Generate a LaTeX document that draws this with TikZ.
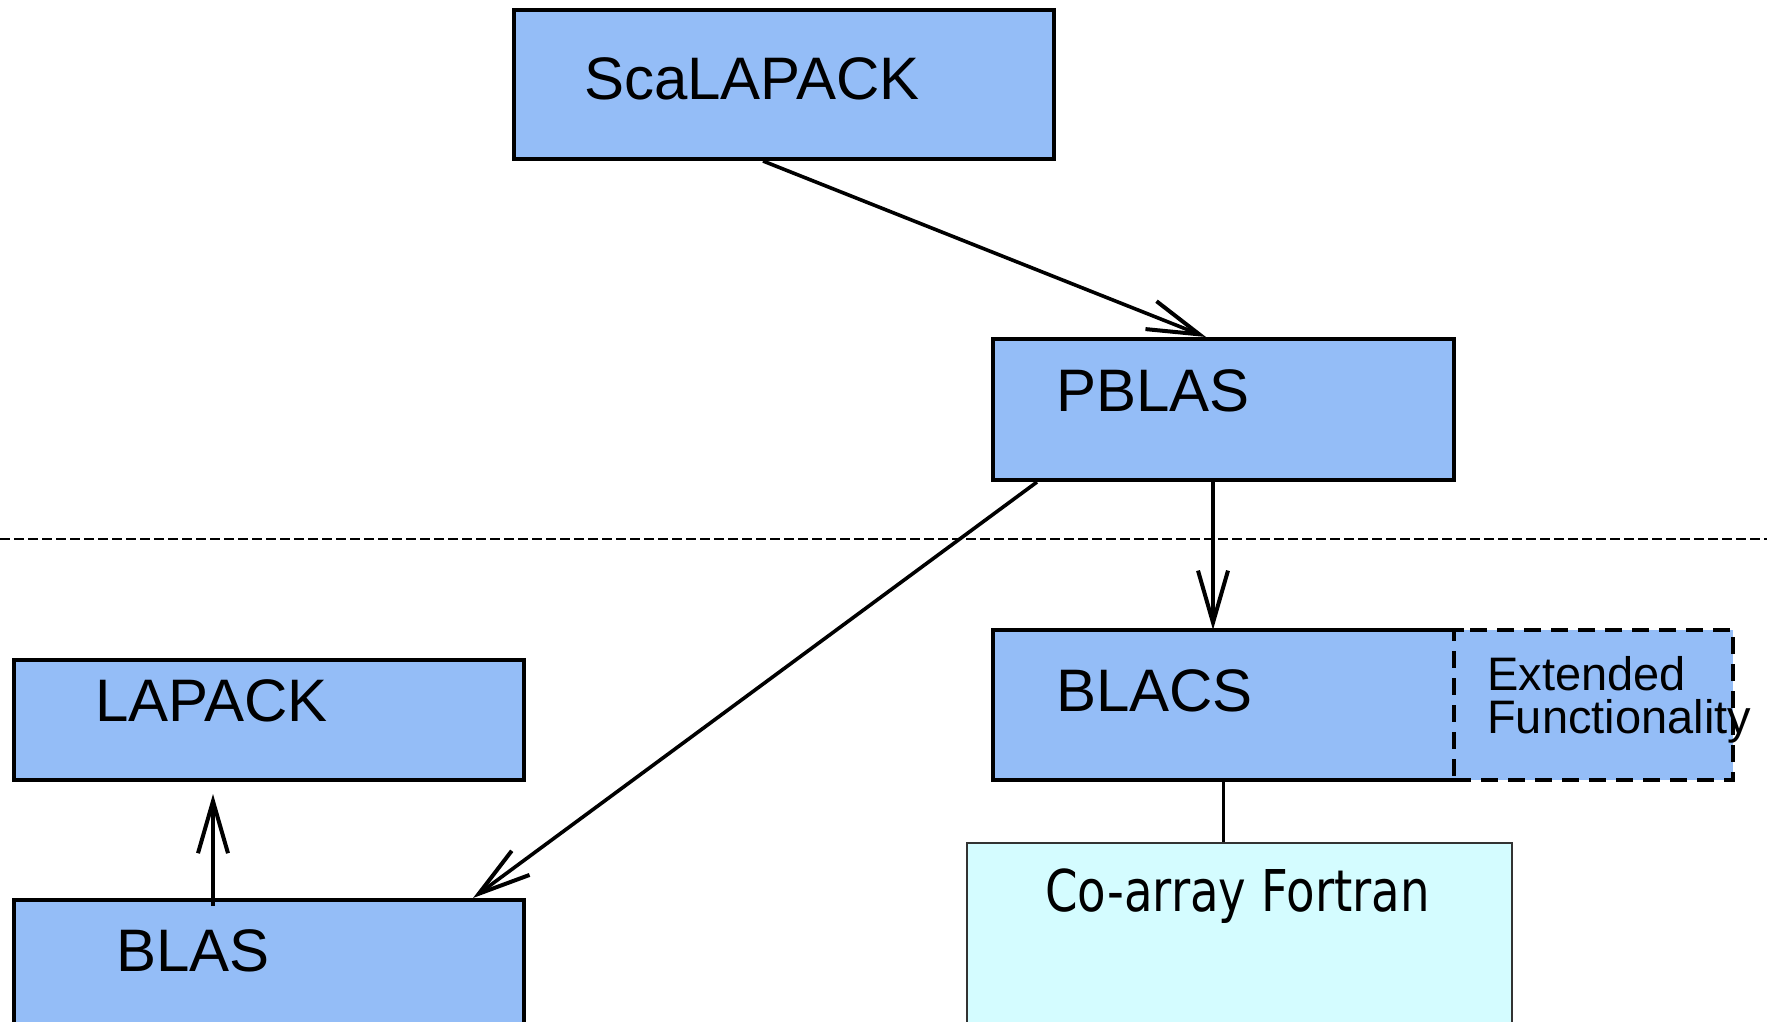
\documentclass[tikz,border=0pt]{standalone}
\usepackage{fontspec}
\setmainfont{Liberation Sans}
\newfontfamily\cafont[FakeStretch=0.81]{DejaVu Sans}
\usetikzlibrary{arrows.meta,calc}
\definecolor{boxblue}{RGB}{148,189,247}
\definecolor{boxcyan}{RGB}{212,252,255}
\tikzset{
  bluebox/.style={draw=black, fill=boxblue, line width=4pt, inner sep=0pt},
  cyanbox/.style={draw=black!80, fill=boxcyan, line width=2pt, inner sep=0pt},
  bigtext/.style={anchor=base west, inner sep=0pt, font=\fontsize{60}{72}\selectfont},
  smalltext/.style={anchor=base west, inner sep=0pt, align=left, font=\fontsize{47}{43}\selectfont},
  catext/.style={anchor=base, inner sep=0pt, font=\cafont\fontsize{57.6}{68}\selectfont},
  conn/.style={line width=3.6pt, -{Straight Barb[length=52pt,width=30pt,line width=4pt]}},
  plainconn/.style={line width=3.6pt},
  sep/.style={line width=2pt, dash pattern=on 10pt off 4pt}
}
\begin{document}
\begin{tikzpicture}[x=1pt,y=-1pt]
\useasboundingbox (0,0) rectangle (1767,1021);
% boxes
\node[bluebox, minimum width=540pt, minimum height=149pt] (scal) at (784,84.5) {};
\node[bluebox, minimum width=461pt, minimum height=141pt] (pblas) at (1223.5,409.5) {};
\node[fill=boxblue, inner sep=0pt, minimum width=461pt, minimum height=150pt] (blacs) at (1223.5,705) {};
\node[bluebox, dash pattern=on 17pt off 10pt, minimum width=279pt, minimum height=150pt] (ext) at (1593.5,705) {};
\draw[line width=4pt] ([xshift=10pt]blacs.north east) -- (blacs.north west) -- (blacs.south west) -- (blacs.south east);
\node[bluebox, minimum width=510pt, minimum height=120pt] (lapack) at (269,720) {};
\node[bluebox, minimum width=510pt, minimum height=140pt] (blas) at (269,970) {};
\node[cyanbox, minimum width=545pt, minimum height=197pt] (caf) at (1239.5,941.5) {};
% texts
\node[bigtext] (scalT) at (584,99) {ScaLAPACK};
\node[bigtext] (pblasT) at (1056,411) {PBLAS};
\node[bigtext] (blacsT) at (1056,711) {BLACS};
\node[bigtext] (lapackT) at (95,721) {LAPACK};
\node[bigtext] (blasT) at (116,971) {BLAS};
\node[smalltext] (extT) at (1487,733) {Extended\\Functionality};
\node[catext] (cafT) at (1237.5,911) {Co-array Fortran};
% separator
\coordinate (sepL) at (0,539);
\coordinate (sepR) at (1767,539);
\draw[sep] (sepL) -- (sepR);
% connectors
\draw[conn] ([xshift=-21pt]scal.south) -- ([xshift=-17.5pt]pblas.north);
\draw[conn] ([xshift=-10.5pt]pblas.south) -- ([xshift=-10.5pt]blacs.north);
\draw[conn] ([xshift=46pt]pblas.south west) -- ([xshift=-53pt]blas.north east);
\draw[conn] ([xshift=-56pt,yshift=-8pt]blas.north) -- ([xshift=-56pt,yshift=-12pt]lapack.south);
\draw[plainconn] (blacs.south) -- (blacs.south |- caf.north);
\end{tikzpicture}
\end{document}
